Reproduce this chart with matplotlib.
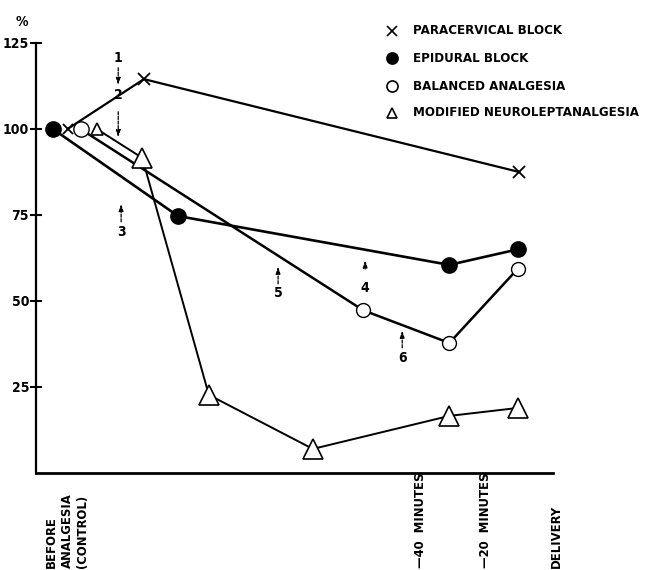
import matplotlib
matplotlib.use("Agg")
import matplotlib.pyplot as plt
from matplotlib import font_manager, transforms

# ---------------- data (x = minutes relative to delivery, y = % of control) ----
para_x = [-148.5, -125.0, -9.5]
para_y = [100, 114.5, 87.5]

epi_x = [-153.0, -114.5, -31.0, -10.0]
epi_y = [100, 74.7, 60.5, 65.0]

bal_x = [-144.5, -57.5, -31.0, -10.0]
bal_y = [100, 47.3, 37.8, 59.3]

nla_x = [-139.5, -125.5, -105.0, -73.0, -31.0, -10.0]
nla_y = [100, 91.6, 22.7, 7.0, 16.6, 18.9]

legend_labels = ["PARACERVICAL BLOCK", "EPIDURAL BLOCK",
                 "BALANCED ANALGESIA", "MODIFIED NEUROLEPTANALGESIA"]

time_labels = ["BEFORE\nANALGESIA\n(CONTROL)", "\u201440  MINUTES",
               "\u201420  MINUTES", "DELIVERY"]
time_pos = [-148.6, -40, -20, 2]

y_ticks = [25, 50, 75, 100, 125]

# numbered event arrows: label, x, text y, arrow tail y, arrow head y
events = [("1", -132.9, 120.6, 117.8, 112.8),
          ("2", -132.9, 109.9, 105.0, 97.6),
          ("3", -132.0, 70.0, 73.0, 78.2),
          ("5", -83.7, 52.3, 55.0, 60.0),
          ("4", -56.9, 53.8, 59.3, 61.8),
          ("6", -45.5, 33.4, 36.4, 41.4)]

# ---------------- fonts ----------------
names = {f.name for f in font_manager.fontManager.ttflist}
narrow = "Liberation Sans Narrow" if "Liberation Sans Narrow" in names else "DejaVu Sans"
wide = "DejaVu Sans"
num_font = dict(fontfamily=narrow, fontweight="bold", fontstretch="condensed")

W, H = 657, 570
fig = plt.figure(figsize=(W / 100, H / 100), dpi=100)
ax = fig.add_axes([36 / W, 1 - 473 / H, (553 - 36) / W, (473 - 43) / H])
ax.set_xlim(-158.2, 0.9)
ax.set_ylim(0, 125)

for s in ["top", "right"]:
    ax.spines[s].set_visible(False)
ax.spines["left"].set_linewidth(1.6)
ax.spines["bottom"].set_linewidth(2.0)

ax.set_xticks([])
ax.set_yticks(y_ticks)
ax.set_yticklabels([str(v) for v in y_ticks], fontsize=10, **num_font)
ax.tick_params(axis="y", direction="inout", length=8, width=1.5, pad=1)

# ---------------- series ----------------
k = "black"
ax.plot(para_x, para_y, color=k, lw=1.6, zorder=2)
ax.plot(epi_x, epi_y, color=k, lw=1.9, zorder=2)
ax.plot(bal_x, bal_y, color=k, lw=1.8, zorder=2)
ax.plot(nla_x, nla_y, color=k, lw=1.4, zorder=2)

def draw_markers(xs, ys, marker, big, small, face, mew):
    for i, (x, y) in enumerate(zip(xs, ys)):
        ax.plot([x], [y], marker=marker, ms=small if i == 0 else big,
                mfc=face, mec=k, mew=mew, ls="none", zorder=3)

draw_markers(para_x, para_y, "x", 9, 6.5, k, 1.3)
draw_markers(epi_x, epi_y, "o", 11, 11, k, 1.0)
draw_markers(bal_x, bal_y, "o", 10, 11, "white", 1.0)
draw_markers(nla_x, nla_y, "^", 15, 9, "white", 1.2)

# ---------------- event arrows ----------------
for lab, x, ty, y0, y1 in events:
    ax.text(x, ty, lab, ha="center", va="center", fontsize=10, **num_font)
    ax.annotate("", xy=(x, y1), xytext=(x, y0),
                arrowprops=dict(arrowstyle="-|>,head_length=0.4,head_width=0.13",
                                color=k, lw=0.9, linestyle=(0, (2.5, 1.2)),
                                shrinkA=0, shrinkB=0))

# ---------------- y unit ----------------
fig.text(22 / W, 1 - 22 / H, "%", ha="center", va="center",
         fontsize=10, **num_font)

# ---------------- legend ----------------
leg_markers = [("x", k, 6.5), ("o", k, 8), ("o", "white", 8), ("^", "white", 6.5)]
leg_rows = [31, 58, 86, 113]
for (m, fc, ms), lab, row in zip(leg_markers, legend_labels, leg_rows):
    yf = 1 - row / H
    fig.lines.append(plt.Line2D([392 / W], [yf], marker=m, ms=ms, mfc=fc,
                                mec=k, mew=1.2, ls="none",
                                transform=fig.transFigure))
    fig.text(413 / W, yf, lab, ha="left", va="center", fontfamily=wide,
             fontweight="bold", fontsize=8.6)

# ---------------- time labels ----------------
bt = transforms.blended_transform_factory(ax.transData, fig.transFigure)
for lab, x in zip(time_labels, time_pos):
    ax.text(x, 2 / H, lab, transform=bt, rotation=90, ha="center",
            va="bottom", multialignment="left", fontfamily=wide,
            fontweight="bold", fontsize=8.4, linespacing=1.25, clip_on=False)

fig.savefig("out.png", dpi=100)
